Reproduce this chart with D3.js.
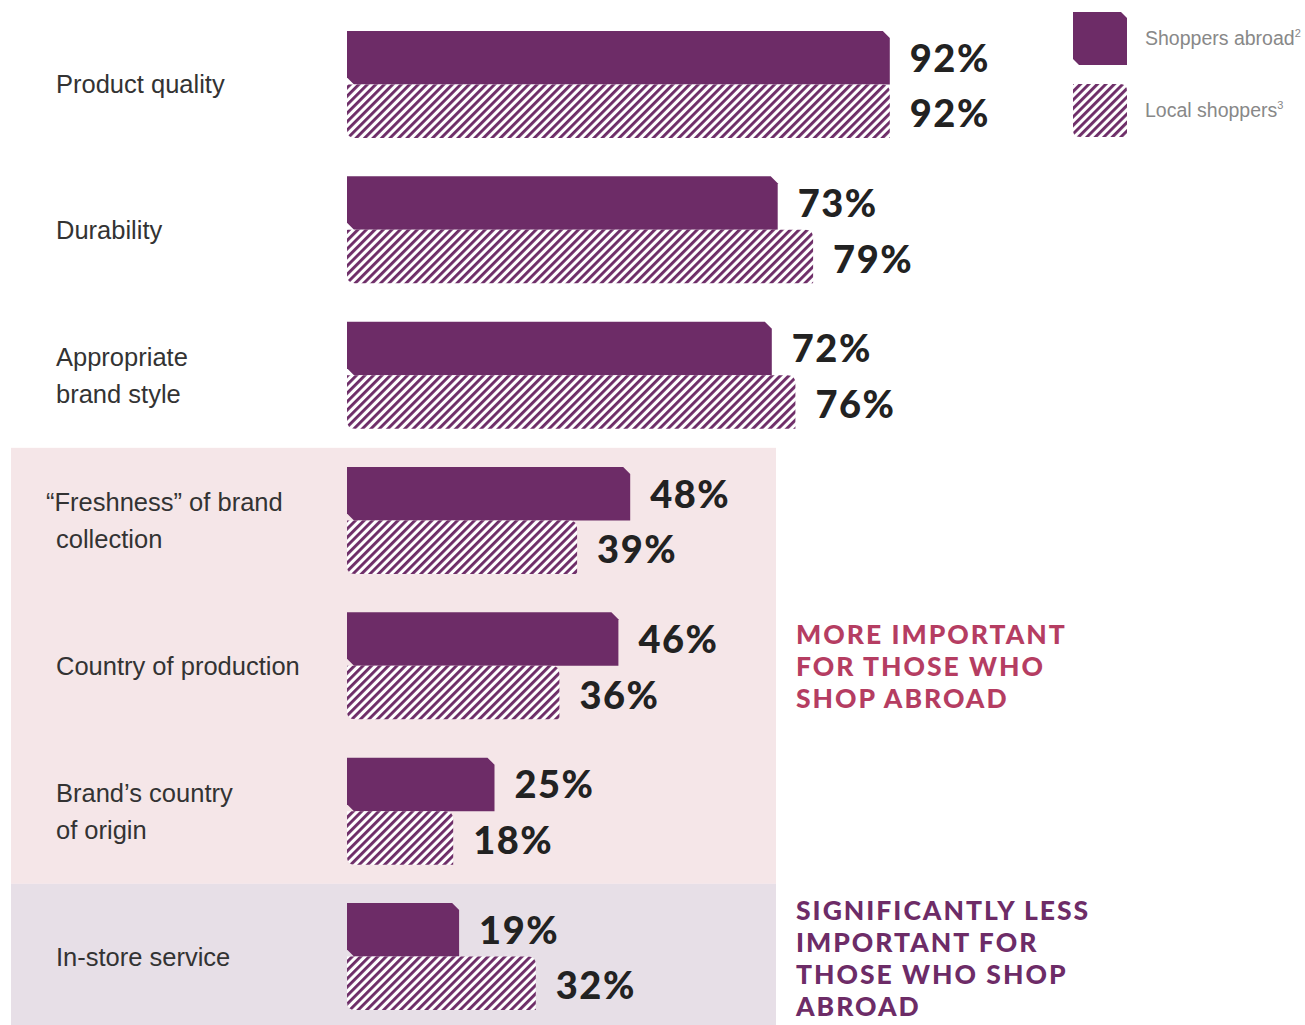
<!DOCTYPE html>
<html>
<head>
<meta charset="utf-8">
<script src="https://cdn.jsdelivr.net/npm/d3@7"></script>
<style>
  html, body { margin: 0; padding: 0; background: #fff; }
  svg { display: block; }
</style>
</head>
<body>
<svg id="chart" width="1305" height="1025"></svg>
<script>
// Purchase factors: share of respondents rating each factor important
const categories = [
  ["Product quality"],
  ["Durability"],
  ["Appropriate", "brand style"],
  ["\u201CFreshness\u201D of brand", "collection"],
  ["Country of production"],
  ["Brand\u2019s country", "of origin"],
  ["In-store service"]
];
const shoppersAbroad = [92, 73, 72, 48, 46, 25, 19];
const localShoppers  = [92, 79, 76, 39, 36, 18, 32];
const seriesNames = ["Shoppers abroad", "Local shoppers"];
const seriesNotes = ["2", "3"];
const noteMore = ["MORE IMPORTANT", "FOR THOSE WHO", "SHOP ABROAD"];
const noteLess = ["SIGNIFICANTLY LESS", "IMPORTANT FOR", "THOSE WHO SHOP", "ABROAD"];

const purple = "#6d2c67";
const svg = d3.select("#chart");

const x = d3.scaleLinear().domain([0, 100]).range([347, 937]);
const rows = d3.scaleBand().domain(d3.range(categories.length)).range([31, 1010]).paddingInner(0.264).paddingOuter(0);
const barH = rows.bandwidth() / 2;

// hatch pattern
const defs = svg.append("defs");
const pat = defs.append("pattern")
  .attr("id", "hatch").attr("patternUnits", "userSpaceOnUse")
  .attr("width", 6).attr("height", 6)
  .attr("patternTransform", "rotate(45)");
pat.append("rect").attr("width", 6).attr("height", 6).attr("fill", "#fff");
pat.append("rect").attr("x", 0).attr("width", 2.9).attr("height", 6).attr("fill", purple);

// highlighted bands
const bandTop = (rows(3) + rows(2) + rows.bandwidth()) / 2;
const bandMid = (rows(6) + rows(5) + rows.bandwidth()) / 2;
svg.append("rect").attr("x", 11).attr("y", bandTop).attr("width", 765).attr("height", bandMid - bandTop).attr("fill", "#f5e6e8");
svg.append("rect").attr("x", 11).attr("y", bandMid).attr("width", 765).attr("height", 1025 - bandMid).attr("fill", "#e7dfe7");

// solid bar with clipped top-right and bottom-left corners
function chamfer(x0, y0, w, h, c) {
  return `M${x0},${y0} L${x0 + w - c},${y0} L${x0 + w},${y0 + c} L${x0 + w},${y0 + h} L${x0 + c},${y0 + h} L${x0},${y0 + h - c} Z`;
}
// hatched bar with rounded top-right and bottom-left corners
function rounded(x0, y0, w, h, r) {
  return `M${x0},${y0} L${x0 + w - r},${y0} Q${x0 + w},${y0} ${x0 + w},${y0 + r} L${x0 + w},${y0 + h} L${x0 + r},${y0 + h} Q${x0},${y0 + h} ${x0},${y0 + h - r} Z`;
}

const valueFont = { family: "Lato", weight: 900, size: 38, spacing: 1.5 };
const g = svg.append("g");
categories.forEach((lines, i) => {
  const y0 = rows(i);
  g.append("path").attr("d", chamfer(x(0), y0, x(shoppersAbroad[i]) - x(0), barH, 7)).attr("fill", purple);
  g.append("path").attr("d", rounded(x(0), y0 + barH, x(localShoppers[i]) - x(0), barH, 8)).attr("fill", "url(#hatch)");

  [[shoppersAbroad[i], y0 + barH / 2 + 14], [localShoppers[i], y0 + barH * 1.5 + 16]].forEach(([v, ty]) => {
    g.append("text").attr("x", x(v) + 20).attr("y", ty)
      .attr("font-family", valueFont.family).attr("font-weight", valueFont.weight)
      .attr("font-size", valueFont.size).attr("letter-spacing", valueFont.spacing).attr("fill", "#222")
      .text(v + "%");
  });

  const cy = y0 + barH;
  const lh = 37;
  lines.forEach((t, k) => {
    const ly = cy + (k - (lines.length - 1) / 2) * lh + 9;
    const lx = (i === 3 && k === 0) ? 46 : 56;
    g.append("text").attr("x", lx).attr("y", ly)
      .attr("font-family", "Liberation Sans, Arial").attr("font-size", 25.5).attr("fill", "#333")
      .text(t);
  });
});

// legend
const leg = svg.append("g");
[0, 1].forEach(k => {
  const ly = 12 + k * 72;
  if (k === 0) leg.append("path").attr("d", chamfer(1073, ly, 54, 53, 6)).attr("fill", purple);
  else leg.append("path").attr("d", rounded(1073, ly, 54, 53, 7)).attr("fill", "url(#hatch)");
  const t = leg.append("text").attr("x", 1145).attr("y", ly + 33)
    .attr("font-family", "Liberation Sans, Arial").attr("font-size", 19.5).attr("fill", "#888")
    .text(seriesNames[k]);
  t.append("tspan").attr("dy", -8).attr("font-size", 11).text(seriesNotes[k]);
});

// annotations
function note(lines, y, color) {
  lines.forEach((t, k) => {
    svg.append("text").attr("x", 796).attr("y", y + k * 32)
      .attr("font-family", "Lato").attr("font-weight", 900).attr("font-size", 26.5)
      .attr("letter-spacing", 2).attr("fill", color).text(t);
  });
}
note(noteMore, 644, "#b53d62");
note(noteLess, 920, purple);
</script>
</body>
</html>
